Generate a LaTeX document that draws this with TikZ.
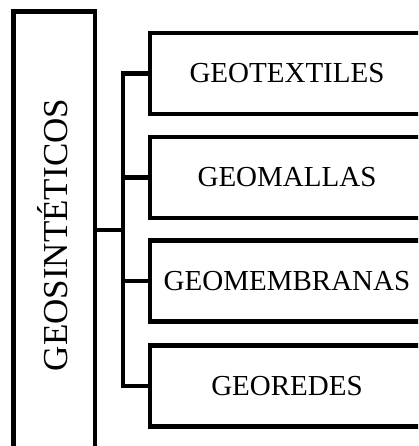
\documentclass[tikz,border=0pt]{standalone}
\usepackage{fontspec}
\setmainfont{Liberation Serif}
\begin{document}
\begin{tikzpicture}[x=1pt,y=-1pt,line width=4.5pt,
  itembox/.style={draw,minimum width=274pt,minimum height=81pt,inner sep=0pt,
    font=\fontsize{29}{30}\selectfont},
  mainbox/.style={draw,minimum width=81.5pt,minimum height=448pt,inner sep=0pt},
  mainlabel/.style={rotate=90,anchor=base,inner sep=0pt,font=\fontsize{35}{36}\selectfont}]
\useasboundingbox (0,0) rectangle (418,446);
\clip (0,0) rectangle (418,446);
% main category (runs off the lower edge)
\node[mainbox] (geo) at (54.25,235.75) {};
\node[mainlabel] (geolabel) at (67,235) {GEOSINTÉTICOS};
% the four types (run off the right edge)
\node[itembox] (b1) at (287,73.5) {GEOTEXTILES};
\node[itembox] (b2) at (287,177.5) {GEOMALLAS};
\node[itembox] (b3) at (287,281) {GEOMEMBRANAS};
\node[itembox] (b4) at (287,386) {GEOREDES};
% bracket joining them
\coordinate (hub) at (123,230);
\draw (geo.east |- hub) -- (hub);
\draw (b1.west) -- (b1.west -| hub) -- (b4.west -| hub) -- (b4.west);
\draw (b2.west) -- (b2.west -| hub);
\draw (b3.west) -- (b3.west -| hub);
\end{tikzpicture}
\end{document}
